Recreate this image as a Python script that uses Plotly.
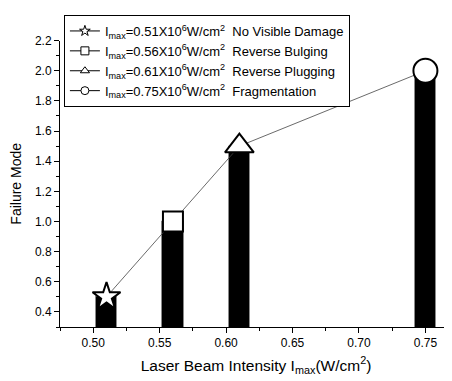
import plotly.graph_objects as go

intensity = [0.51, 0.56, 0.61, 0.75]
failure_mode = [0.5, 1.0, 1.5, 2.0]
symbols = ["star", "square", "triangle-up", "circle"]
marker_sizes = [21, 20, 25, 24]
legend_labels = [
    "I<sub>max</sub>=0.51X10<sup>6</sup>W/cm<sup>2</sup>  No Visible Damage",
    "I<sub>max</sub>=0.56X10<sup>6</sup>W/cm<sup>2</sup>  Reverse Bulging",
    "I<sub>max</sub>=0.61X10<sup>6</sup>W/cm<sup>2</sup>  Reverse Plugging",
    "I<sub>max</sub>=0.75X10<sup>6</sup>W/cm<sup>2</sup>  Fragmentation",
]

FONT = "Liberation Sans, Arial, sans-serif"

fig = go.Figure()

fig.add_trace(go.Bar(
    x=intensity, y=failure_mode, width=0.016,
    marker=dict(color="black", line=dict(color="#8a8a8a", width=1)),
    showlegend=False,
))

fig.add_trace(go.Scatter(
    x=intensity, y=failure_mode, mode="lines",
    line=dict(color="#444444", width=0.8),
    showlegend=False, cliponaxis=False,
))

for xi, yi, sym, sz in zip(intensity, failure_mode, symbols, marker_sizes):
    fig.add_trace(go.Scatter(
        x=[xi], y=[yi], mode="markers",
        marker=dict(symbol=sym, size=sz, color="white",
                    line=dict(color="black", width=2)),
        showlegend=False, cliponaxis=False,
    ))

for sym, lab in zip(symbols, legend_labels):
    fig.add_trace(go.Scatter(
        x=[None], y=[None], mode="lines+markers", name=lab,
        line=dict(color="black", width=1),
        marker=dict(symbol=sym, size=8, color="white",
                    line=dict(color="black", width=1)),
    ))

# page body has an 8px margin, so the figure is 8px smaller and shifted
fig.update_layout(
    width=444, height=373,
    margin=dict(l=52, r=0, t=1, b=54),
    paper_bgcolor="white", plot_bgcolor="white",
    font=dict(family=FONT, color="black", size=12),
    bargap=0,
    legend=dict(
        x=0.01, y=1.0, xanchor="left", yanchor="top",
        bordercolor="black", borderwidth=1, bgcolor="white",
        font=dict(size=13, family=FONT), tracegroupgap=0,
        itemwidth=30,
    ),
    xaxis=dict(
        range=[0.475, 0.77], tick0=0.5, dtick=0.05, tickformat=".2f",
        showgrid=False, zeroline=False, showline=True, linecolor="black",
        linewidth=1, ticks="outside", ticklen=5, tickcolor="black",
        minor=dict(dtick=0.025, ticks="outside", ticklen=3, tickcolor="black"),
        tickfont=dict(size=12),
        title=dict(text="Laser Beam Intensity I<sub>max</sub>(W/cm<sup>2</sup>)",
                   font=dict(size=15.5), standoff=10),
    ),
    yaxis=dict(
        domain=[0, 0.918],
        range=[0.3, 2.2], tick0=0.4, dtick=0.2, tickformat=".1f",
        showgrid=False, zeroline=False, showline=True, linecolor="black",
        linewidth=1, ticks="outside", ticklen=5, tickcolor="black",
        minor=dict(dtick=0.1, ticks="outside", ticklen=3, tickcolor="black"),
        tickfont=dict(size=12),
        title=dict(text="Failure Mode", font=dict(size=14), standoff=13),
    ),
)

fig.write_html("out.html")
